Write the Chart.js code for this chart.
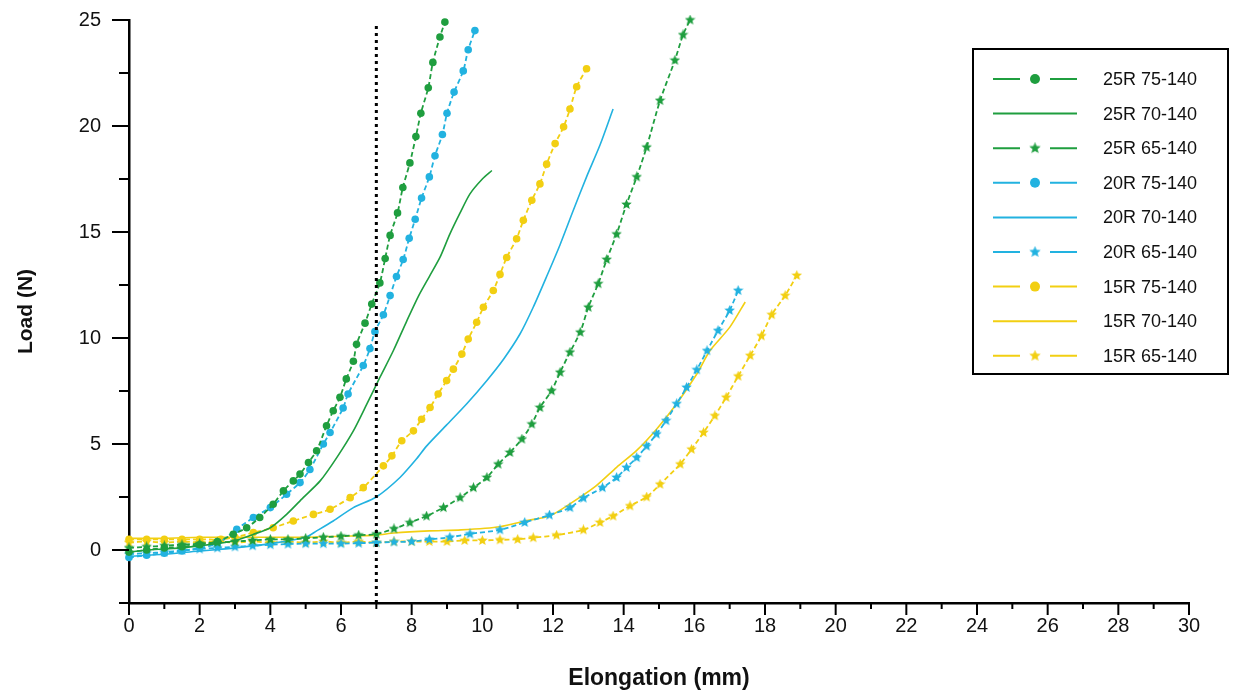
<!DOCTYPE html>
<html>
<head>
<meta charset="utf-8">
<script src="https://cdn.jsdelivr.net/npm/chart.js@4.4.1/dist/chart.umd.min.js"></script>
<style>
  html, body { margin: 0; padding: 0; background: #fff; }
  #wrap { width: 1259px; height: 696px; }
</style>
</head>
<body>
<div id="wrap"><canvas id="grafica" width="1259" height="696"></canvas></div>
<script>
// Series labels
const seriesNames = ["25R 75-140", "25R 70-140", "25R 65-140",
                     "20R 75-140", "20R 70-140", "20R 65-140",
                     "15R 75-140", "15R 70-140", "15R 65-140"];

// Elongation (mm) / Load (N)
const r25_75x = [0, 0.5, 1, 1.5, 2, 2.5, 2.95, 3.33, 3.7, 4.08, 4.37, 4.65, 4.84, 5.08, 5.31, 5.59, 5.78, 5.97, 6.15, 6.35, 6.44, 6.68, 6.87, 7.1, 7.25, 7.39, 7.6, 7.75, 7.95, 8.12, 8.26, 8.47, 8.6, 8.8, 8.94];
const r25_75y = [-0.1, 0, 0.1, 0.15, 0.25, 0.4, 0.74, 1.05, 1.53, 2.16, 2.79, 3.26, 3.58, 4.13, 4.68, 5.86, 6.57, 7.2, 8.07, 8.9, 9.7, 10.7, 11.6, 12.6, 13.75, 14.84, 15.9, 17.1, 18.26, 19.5, 20.6, 21.8, 23.0, 24.2, 24.9];

const r25_70x = [0, 0.5, 1, 1.5, 2, 2.5, 3, 3.52, 4.0, 4.46, 4.93, 5.41, 5.88, 6.35, 6.73, 7.1, 7.48, 7.86, 8.2, 8.5, 8.8, 9.08, 9.37, 9.65, 10.0, 10.27];
const r25_70y = [-0.1, 0, 0.05, 0.1, 0.2, 0.3, 0.45, 0.74, 1.05, 1.68, 2.47, 3.26, 4.36, 5.62, 6.88, 8.14, 9.4, 10.8, 12.0, 12.9, 13.8, 14.9, 15.9, 16.8, 17.5, 17.9];

const r25_65x = [0, 0.5, 1, 1.5, 2, 2.5, 3, 3.5, 4, 4.5, 5, 5.5, 6, 6.5, 7, 7.5, 7.95, 8.42, 8.9, 9.37, 9.75, 10.13, 10.45, 10.78, 11.12, 11.4, 11.63, 11.96, 12.2, 12.48, 12.77, 13.0, 13.28, 13.52, 13.8, 14.08, 14.37, 14.65, 15.03, 15.45, 15.68, 15.88];
const r25_65y = [0.1, 0.15, 0.2, 0.25, 0.3, 0.35, 0.4, 0.45, 0.5, 0.5, 0.55, 0.6, 0.65, 0.7, 0.75, 1.0, 1.29, 1.6, 2.0, 2.47, 2.94, 3.42, 4.05, 4.6, 5.23, 5.94, 6.72, 7.51, 8.38, 9.33, 10.27, 11.45, 12.56, 13.7, 14.9, 16.3, 17.6, 19.0, 21.2, 23.1, 24.3, 25.0];

const r20_75x = [0, 0.5, 1, 1.5, 2, 2.5, 3.05, 3.52, 4.0, 4.46, 4.84, 5.12, 5.5, 5.69, 6.06, 6.2, 6.63, 6.82, 6.96, 7.2, 7.39, 7.57, 7.76, 7.93, 8.1, 8.28, 8.5, 8.66, 8.87, 9.0, 9.2, 9.46, 9.6, 9.79];
const r20_75y = [-0.35, -0.25, -0.15, -0.05, 0.1, 0.3, 0.98, 1.53, 2.0, 2.63, 3.18, 3.8, 5.0, 5.54, 6.7, 7.36, 8.7, 9.5, 10.3, 11.1, 12.0, 12.9, 13.7, 14.7, 15.6, 16.6, 17.6, 18.6, 19.6, 20.6, 21.6, 22.6, 23.6, 24.5];

const r20_70x = [0, 1, 2, 3, 4, 5, 5.31, 5.78, 6.35, 7.0, 7.67, 8.14, 8.42, 8.99, 9.56, 10.13, 10.6, 11.07, 11.44, 11.82, 12.2, 12.57, 12.95, 13.33, 13.7];
const r20_70y = [-0.3, -0.2, -0.05, 0.1, 0.3, 0.6, 0.9, 1.37, 2.0, 2.5, 3.42, 4.3, 4.9, 5.9, 6.9, 8.0, 9.0, 10.2, 11.45, 12.9, 14.4, 16.0, 17.6, 19.1, 20.8];

const r20_65x = [0, 0.5, 1, 1.5, 2, 2.5, 3, 3.5, 4, 4.5, 5, 5.5, 6, 6.5, 7, 7.5, 8, 8.5, 9.08, 9.65, 10.5, 11.2, 11.9, 12.48, 12.86, 13.4, 13.8, 14.08, 14.37, 14.65, 14.93, 15.2, 15.5, 15.78, 16.07, 16.36, 16.67, 17.0, 17.24];
const r20_65y = [-0.2, -0.15, -0.1, -0.02, 0.05, 0.1, 0.15, 0.2, 0.25, 0.28, 0.3, 0.3, 0.3, 0.32, 0.35, 0.38, 0.4, 0.5, 0.6, 0.76, 0.95, 1.3, 1.65, 2.0, 2.45, 2.94, 3.42, 3.89, 4.36, 4.9, 5.47, 6.1, 6.9, 7.67, 8.5, 9.4, 10.35, 11.3, 12.24];

const r15_75x = [0, 0.5, 1, 1.5, 2, 2.6, 3.0, 3.52, 4.08, 4.65, 5.22, 5.69, 6.26, 6.63, 7.2, 7.44, 7.72, 8.05, 8.28, 8.52, 8.75, 8.99, 9.18, 9.42, 9.6, 9.84, 10.03, 10.31, 10.5, 10.69, 10.97, 11.16, 11.4, 11.63, 11.82, 12.06, 12.3, 12.48, 12.67, 12.95];
const r15_75y = [0.5, 0.5, 0.5, 0.5, 0.5, 0.5, 0.6, 0.82, 1.05, 1.37, 1.68, 1.92, 2.47, 2.94, 3.97, 4.44, 5.15, 5.62, 6.17, 6.72, 7.36, 7.99, 8.53, 9.24, 9.95, 10.74, 11.45, 12.24, 13.0, 13.8, 14.68, 15.55, 16.5, 17.27, 18.2, 19.17, 19.96, 20.8, 21.85, 22.7];

const r15_70x = [0, 1, 2, 3, 4, 5, 6, 7, 7.5, 8.5, 9.4, 10.5, 11.3, 11.9, 12.5, 13.2, 13.8, 14.37, 14.93, 15.5, 16.07, 16.44, 17.0, 17.44];
const r15_70y = [0.55, 0.55, 0.6, 0.6, 0.6, 0.6, 0.65, 0.7, 0.8, 0.9, 0.95, 1.1, 1.4, 1.6, 2.2, 3.0, 3.9, 4.7, 5.7, 6.9, 8.3, 9.4, 10.5, 11.7];

const r15_65x = [0, 0.5, 1, 1.5, 2, 2.5, 3, 3.5, 4, 4.5, 5, 5.5, 6, 6.5, 7, 7.5, 8, 8.5, 9, 9.5, 10, 10.5, 11, 11.44, 12.1, 12.86, 13.33, 13.7, 14.18, 14.65, 15.03, 15.6, 15.92, 16.26, 16.58, 16.9, 17.24, 17.58, 17.9, 18.19, 18.57, 18.9];
const r15_65y = [0.35, 0.4, 0.35, 0.4, 0.35, 0.4, 0.35, 0.4, 0.35, 0.4, 0.35, 0.4, 0.35, 0.4, 0.35, 0.4, 0.4, 0.4, 0.4, 0.45, 0.45, 0.48, 0.5, 0.58, 0.7, 0.95, 1.3, 1.6, 2.08, 2.5, 3.1, 4.05, 4.75, 5.54, 6.33, 7.2, 8.2, 9.17, 10.1, 11.1, 12.0, 12.95];

// vertical reference line at 7 mm
const refLineX = [7, 7];
const refLineY = [-2.5, 24.8];

// tick labels
const xTickLabels = [0, 2, 4, 6, 8, 10, 12, 14, 16, 18, 20, 22, 24, 26, 28, 30];
const yTickLabels = [0, 5, 10, 15, 20, 25];

const green = "#1f9e3f", cyan = "#22b2e0", yellow = "#f2cf12";

function makeStar(color, size) {
    const c = document.createElement("canvas");
    c.width = size; c.height = size;
    const g = c.getContext("2d");
    const cx = size / 2, cy = size / 2, ro = size / 2, ri = ro * 0.45;
    g.beginPath();
    for (let i = 0; i < 10; i++) {
        const r = i % 2 === 0 ? ro : ri;
        const a = -Math.PI / 2 + i * Math.PI / 5;
        g.lineTo(cx + r * Math.cos(a), cy + r * Math.sin(a));
    }
    g.closePath();
    g.fillStyle = color;
    g.fill();
    return c;
}

function pts(xs, ys) {
    return xs.map((x, i) => ({ x: x, y: ys[i] }));
}

function series(name, xs, ys, color, kind) {
    const ds = {
        label: name,
        data: pts(xs, ys),
        borderColor: color,
        backgroundColor: color,
        pointBackgroundColor: color,
        pointBorderWidth: 0,
        tension: 0.25,
        clip: false,
        order: 0
    };
    if (kind === "line") {
        ds.borderWidth = 1.6;
        ds.pointRadius = 0;
        ds.borderDash = [];
    } else {
        ds.borderWidth = 1.8;
        ds.borderDash = [5, 3];
        ds.pointRadius = kind === "star" ? 5 : 3.8;
        ds.pointStyle = kind === "star" ? makeStar(color, 11) : "circle";
    }
    ds.kind = kind;
    return ds;
}

const datasets = [
    series(seriesNames[0], r25_75x, r25_75y, green, "circle"),
    series(seriesNames[1], r25_70x, r25_70y, green, "line"),
    series(seriesNames[2], r25_65x, r25_65y, green, "star"),
    series(seriesNames[3], r20_75x, r20_75y, cyan, "circle"),
    series(seriesNames[4], r20_70x, r20_70y, cyan, "line"),
    series(seriesNames[5], r20_65x, r20_65y, cyan, "star"),
    series(seriesNames[6], r15_75x, r15_75y, yellow, "circle"),
    series(seriesNames[7], r15_70x, r15_70y, yellow, "line"),
    series(seriesNames[8], r15_65x, r15_65y, yellow, "star"),
    {
        label: "ref",
        data: pts(refLineX, refLineY),
        borderColor: "#000",
        borderWidth: 3,
        borderDash: [3, 4],
        pointRadius: 0,
        clip: false,
        order: -1,
        kind: "ref"
    }
];

// tick marks: long on labelled values, short otherwise
const tickMarks = {
    id: "tickMarks",
    afterDraw(chart) {
        const { ctx, chartArea } = chart;
        const xs = chart.scales.x, ys = chart.scales.y;
        ctx.save();
        ctx.strokeStyle = "#000";
        ctx.lineWidth = 2;
        for (let v = 0; v <= 30; v++) {
            const px = xs.getPixelForValue(v);
            const len = xTickLabels.includes(v) ? 12 : 6;
            ctx.beginPath();
            ctx.moveTo(px, chartArea.bottom);
            ctx.lineTo(px, chartArea.bottom + len);
            ctx.stroke();
        }
        for (let v = -2.5; v <= 25; v += 2.5) {
            const py = ys.getPixelForValue(v);
            const len = yTickLabels.includes(v) ? 17 : 10;
            ctx.beginPath();
            ctx.moveTo(chartArea.left, py);
            ctx.lineTo(chartArea.left - len, py);
            ctx.stroke();
        }
        ctx.restore();
    }
};

// boxed legend inside the plot
const boxLegend = {
    id: "boxLegend",
    afterDraw(chart) {
        const ctx = chart.ctx;
        const left = 973, top = 49, w = 255, h = 325;
        ctx.save();
        ctx.strokeStyle = "#000";
        ctx.lineWidth = 2;
        ctx.strokeRect(left, top, w, h);
        ctx.font = "18px 'Liberation Sans', Arial, sans-serif";
        ctx.fillStyle = "#111";
        ctx.textBaseline = "middle";
        chart.data.datasets.forEach((ds, i) => {
            if (ds.kind === "ref") return;
            const y = 79 + i * 34.6;
            const x0 = 993, x1 = 1077, xm = 1035;
            ctx.strokeStyle = ds.borderColor;
            ctx.lineWidth = 2;
            ctx.setLineDash([]);
            ctx.beginPath();
            if (ds.kind === "line") {
                ctx.moveTo(x0, y); ctx.lineTo(x1, y);
            } else {
                ctx.moveTo(x0, y); ctx.lineTo(1020, y);
                ctx.moveTo(1050, y); ctx.lineTo(x1, y);
            }
            ctx.stroke();
            if (ds.kind === "circle") {
                ctx.fillStyle = ds.borderColor;
                ctx.beginPath();
                ctx.arc(xm, y, 5, 0, Math.PI * 2);
                ctx.fill();
            } else if (ds.kind === "star") {
                ctx.drawImage(ds.pointStyle, xm - 6, y - 6, 12, 12);
            }
            ctx.fillStyle = "#111";
            ctx.fillText(ds.label, 1103, y + 1);
        });
        ctx.restore();
    }
};

const ctx = document.getElementById("grafica").getContext("2d");
new Chart(ctx, {
    type: "line",
    data: { datasets: datasets },
    options: {
        responsive: false,
        animation: false,
        layout: { padding: { top: 0, right: 70, left: 0, bottom: 0 } },
        plugins: {
            legend: { display: false },
            tooltip: { enabled: false }
        },
        scales: {
            x: {
                type: "linear",
                min: 0,
                max: 30,
                grid: { display: false, drawTicks: false },
                border: { display: true, color: "#000", width: 2.5 },
                ticks: {
                    stepSize: 1,
                    autoSkip: false,
                    maxRotation: 0,
                    padding: 11,
                    color: "#111",
                    font: { family: "'Liberation Sans', Arial, sans-serif", size: 20 },
                    callback: (v) => (xTickLabels.includes(v) ? String(v) : "")
                },
                title: {
                    display: true,
                    text: "Elongation (mm)",
                    color: "#111",
                    font: { family: "'Liberation Sans', Arial, sans-serif", size: 23, weight: "bold" },
                    padding: { top: 0, bottom: 4 }
                },
                afterFit: (s) => { s.height = 93; }
            },
            y: {
                type: "linear",
                min: -2.5,
                max: 25,
                // invisible tick room keeps labels clear of the axis; marks are drawn by the plugin
                grid: { display: true, drawOnChartArea: false, drawTicks: true, tickLength: 20, tickColor: "rgba(0,0,0,0)", color: "rgba(0,0,0,0)" },
                border: { display: true, color: "#000", width: 2.5 },
                ticks: {
                    stepSize: 2.5,
                    autoSkip: false,
                    padding: 8,
                    color: "#111",
                    font: { family: "'Liberation Sans', Arial, sans-serif", size: 20 },
                    callback: (v) => (yTickLabels.includes(v) ? String(v) : "")
                },
                title: {
                    display: true,
                    text: "Load (N)",
                    color: "#111",
                    font: { family: "'Liberation Sans', Arial, sans-serif", size: 21, weight: "bold" },
                    padding: { top: 14, bottom: 0 }
                },
                afterFit: (s) => { s.width = 129; }
            }
        }
    },
    plugins: [tickMarks, boxLegend]
});
</script>
</body>
</html>
